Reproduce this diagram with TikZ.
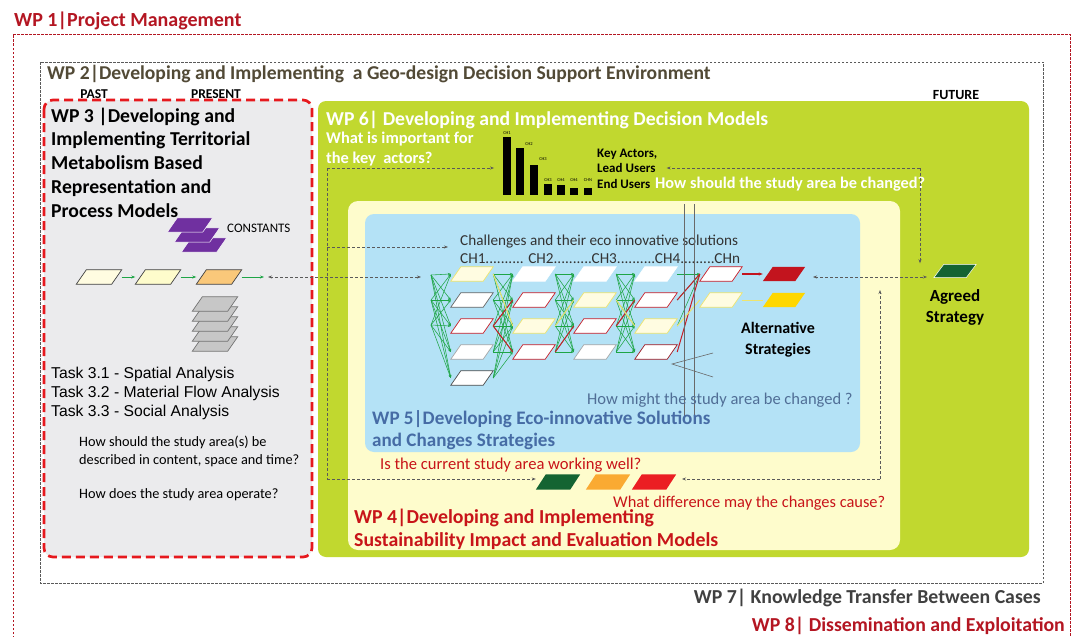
\documentclass[tikz,border=0pt]{standalone}
\usepackage{fontspec}
\setmainfont{Carlito}
\newfontfamily\arialf{Liberation Sans}
\usetikzlibrary{arrows.meta}
\newcommand\myfs[1]{\fontsize{#1}{#1}\selectfont}
% parallelogram: [node options]{path options}{name}{x}{y}
\newcommand\pnode[5][]{%
  \node[pbox,#1] (#3) at (#4,#5) {};
  \path[#2] (#3.south west) -- ([xshift=-10pt]#3.south east) -- (#3.north east) -- ([xshift=10pt]#3.north west) -- cycle;}
\definecolor{wpred}{RGB}{180,22,34}
\definecolor{wptwo}{RGB}{82,74,54}
\definecolor{wpthree}{RGB}{230,25,30}
\definecolor{graybg}{RGB}{235,235,237}
\definecolor{lime}{RGB}{193,216,47}
\definecolor{cream}{RGB}{254,252,204}
\definecolor{paleyel}{RGB}{255,252,225}
\definecolor{sky}{RGB}{180,226,246}
\definecolor{wpblue}{RGB}{70,108,165}
\definecolor{howblue}{RGB}{80,110,150}
\definecolor{netgreen}{RGB}{30,165,70}
\definecolor{netred}{RGB}{200,30,40}
\definecolor{netyellow}{RGB}{238,228,110}
\definecolor{purp}{RGB}{112,48,160}
\definecolor{dkgreen}{RGB}{20,100,50}
\definecolor{tlorange}{RGB}{250,170,50}
\definecolor{rowor}{RGB}{250,200,122}
\definecolor{tlred}{RGB}{235,30,35}
\definecolor{resred}{RGB}{195,20,30}
\definecolor{resyellow}{RGB}{255,215,0}
\definecolor{dashc}{RGB}{90,90,90}
\definecolor{wpfour}{RGB}{200,20,25}
\definecolor{wpseven}{RGB}{64,64,64}
\definecolor{thingray}{RGB}{105,105,105}
\begin{document}
\begin{tikzpicture}[x=1pt,y=-1pt,
  pbox/.style={rectangle, inner sep=0pt, minimum width=42pt, minimum height=14pt},
  bigbox/.style={minimum width=45pt},
  dline/.style={draw=dashc, dash pattern=on 3pt off 2pt, line width=0.8pt},
  dconn/.style={dline, -{Stealth[length=4pt,width=3pt]}},
  dboth/.style={dline, {Stealth[length=4pt,width=3pt]}-{Stealth[length=4pt,width=3pt]}},
  gline/.style={draw=netgreen, line width=0.55pt, -{Stealth[length=3pt,width=2.4pt]}},
  rline/.style={draw=netred, line width=1pt},
  yline/.style={draw=netyellow, line width=1pt},
  garrow/.style={draw=netgreen, line width=0.8pt, -{Stealth[length=4pt,width=3pt]}},
  txt/.style={inner sep=0pt, anchor=base west},
  ctxt/.style={inner sep=0pt, anchor=base},
  rtxt/.style={inner sep=0pt, anchor=base east},
  bar/.style={fill=black, inner sep=0pt, minimum width=7.5pt, anchor=south},
  tiny/.style={inner sep=0pt, anchor=base, font=\myfs{4.5}}
]
\useasboundingbox (0,0) rectangle (1080,637);
\fill[white] (0,0) rectangle (1080,637);

% WP1 frame and title
\draw[wpred, dash pattern=on 2.5pt off 1.5pt, line width=0.6pt] (13,650) -- (13,34) -- (1070,34) -- (1070,650);
\node[txt, font=\myfs{20}\bfseries, text=wpred] (wp1) at (14,26) {WP 1|Project Management};

% WP2 frame and title
\draw[dashc, dash pattern=on 2.5pt off 1.5pt, line width=0.7pt] (40,62) rectangle (1043,583);
\node[txt, font=\myfs{19.6}\bfseries, text=wptwo] (wp2) at (47,79) {WP 2|Developing and Implementing\ \ a Geo-design Decision Support Environment};
\node[ctxt, font=\myfs{13.5}\bfseries] (past) at (94,98) {PAST};
\node[ctxt, font=\myfs{13.5}\bfseries] (present) at (216,98) {PRESENT};
\node[ctxt, font=\myfs{14}\bfseries] (future) at (956,99) {FUTURE};

% WP3 box
\draw[wpthree, line width=2.7pt, dash pattern=on 9pt off 5pt, fill=graybg, rounded corners=9pt] (44,100) rectangle (312,557);
\node[txt, font=\myfs{19.7}\bfseries] (w3a) at (51,122) {WP 3 |Developing and};
\node[txt, font=\myfs{19.7}\bfseries] (w3b) at (51,145) {Implementing Territorial};
\node[txt, font=\myfs{19.7}\bfseries] (w3c) at (51,169) {Metabolism Based};
\node[txt, font=\myfs{19.7}\bfseries] (w3d) at (51,193) {Representation and};
\node[txt, font=\myfs{19.7}\bfseries] (w3e) at (51,217) {Process Models};

% constants stack
\pnode[bigbox]{fill=purp, draw=white, line width=0.5pt}{c3}{204}{245}
\pnode[bigbox]{fill=purp, draw=white, line width=0.5pt}{c2}{197}{235}
\pnode[bigbox]{fill=purp, draw=white, line width=0.5pt}{c1}{190}{225}
\node[txt, font=\myfs{13}] (const) at (227,232) {CONSTANTS};

% row of states
\pnode[bigbox]{fill=paleyel, draw=black!75, line width=0.7pt}{r1}{99}{277}
\pnode[bigbox]{fill=cream, draw=black!75, line width=0.7pt}{r2}{158}{277}
\pnode[bigbox]{fill=rowor, draw=black!75, line width=0.7pt}{r3}{219}{277}
\coordinate (rend) at (264,277);
\draw[garrow] (r1) -- (r2);
\draw[garrow] (r2) -- (r3);
\draw[garrow] (r3) -- (rend);

% gray stack
\foreach \i/\yy in {5/344,4/334,3/324,2/314,1/304}{
  \pnode[bigbox]{fill=black!22, draw=black!55, line width=0.7pt}{g\i}{215}{\yy}
}

% tasks
\node[txt, font=\arialf\myfs{15.7}] (t1) at (51,378) {Task 3.1 - Spatial Analysis};
\node[txt, font=\arialf\myfs{15.7}] (t2) at (51,397) {Task 3.2 - Material Flow Analysis};
\node[txt, font=\arialf\myfs{15.7}] (t3) at (51,416) {Task 3.3 - Social Analysis};
\node[txt, font=\myfs{14.3}] (qa) at (79,446) {How should the study area(s) be};
\node[txt, font=\myfs{14.3}] (qb) at (79,464) {described in content, space and time?};
\node[txt, font=\myfs{14.3}] (qc) at (79,498) {How does the study area operate?};

% WP6 / WP4 / WP5 boxes
\fill[lime, rounded corners=8pt] (318,101) rectangle (1029,557);
\fill[cream, rounded corners=10pt] (348,201) rectangle (900,550);
\fill[sky, rounded corners=9pt] (365,214) rectangle (860,452);

% WP6 texts
\node[txt, font=\myfs{19.7}\bfseries, text=white] (wp6) at (326,125) {WP 6| Developing and Implementing Decision Models};
\node[txt, font=\myfs{16.4}\bfseries, text=white] (wi1) at (326,143) {What is important for};
\node[txt, font=\myfs{16.4}\bfseries, text=white] (wi2) at (326,163) {the key\ \ actors?};

% bar chart
\node[bar, minimum height=58pt] (b1) at (507,195) {};
\node[bar, minimum height=47pt] (b2) at (520,195) {};
\node[bar, minimum height=30pt] (b3) at (534,195) {};
\node[bar, minimum height=11pt] (b4) at (548,195) {};
\node[bar, minimum height=10pt] (b5) at (561,195) {};
\node[bar, minimum height=7pt] (b6) at (574,195) {};
\node[bar, minimum height=7pt] (b7) at (588,195) {};
\node[tiny] (l1) at (507,134) {CH1};
\node[tiny] (l2) at (529,145) {CH2};
\node[tiny] (l3) at (543,160) {CH3};
\node[tiny] (l4) at (548,181) {CH3};
\node[tiny] (l5) at (561,181) {CH4};
\node[tiny] (l6) at (574,181) {CH4};
\node[tiny] (l7) at (588,181) {CHN};

\node[txt, font=\myfs{13}\bfseries] (ka) at (597,157) {Key Actors,};
\node[txt, font=\myfs{13}\bfseries] (lu) at (597,172) {Lead Users};
\node[txt, font=\myfs{13}\bfseries] (eu) at (597,188) {End Users};
\node[txt, font=\myfs{16.3}\bfseries, text=white] (hs) at (655,188) {How should the study area be changed?};

% WP5 texts
\node[txt, font=\myfs{15.2}, text=black!80] (chal) at (460,245) {Challenges and their eco innovative solutions};
\node[txt, font=\myfs{15.2}, text=black!80] (chs) at (460,263) {CH1.......... CH2..........CH3..........CH4.........CHn};

% network nodes
\foreach \n/\x/\y/\f/\d in {
  n1-1/472/274/paleyel/netyellow, n1-2/472/300/white/black!60,
  n1-3/472/326/white/netred, n1-4/472/352/white/black!35,
  n1-5/472/378/white/black!70,
  n2-1/534/274/white/white, n2-2/534/300/white/netred,
  n2-3/534/326/paleyel/netyellow, n2-4/534/352/white/netred,
  n3-1/595/274/white/white, n3-2/595/300/paleyel/netyellow,
  n3-3/595/326/white/netred, n3-4/595/352/white/black!35,
  n4-1/656/274/white/white, n4-2/656/300/white/netred,
  n4-3/656/326/paleyel/netyellow, n4-4/656/352/white/netred!80!black,
  n5-1/721/274/white/netred, n5-2/721/300/paleyel/netyellow}{
  \pnode{fill=\f, draw=\d, line width=0.7pt}{\n}{\x}{\y}
}
\pnode{fill=resred}{resR}{784}{274}
\pnode{fill=resyellow}{resY}{784}{300}

% fan start points
\coordinate (f1) at (431,275);
\coordinate (f2) at (431,300);
\coordinate (f3) at (431,325);
\foreach \a in {1,2,3}{\foreach \b in {1,...,5}{\draw[gline] (f\a) -- (n1-\b.west);}}
\foreach \a in {1,...,5}{\foreach \b in {1,...,4}{\draw[gline] (n1-\a.east) -- (n2-\b.west);}}
\foreach \a in {1,...,4}{\foreach \b in {1,...,4}{\draw[gline] (n2-\a.east) -- (n3-\b.west);}}
\foreach \a in {1,...,4}{\foreach \b in {1,...,4}{\draw[gline] (n3-\a.east) -- (n4-\b.west);}}
\foreach \a in {1,2,3}{\draw[gline] (n4-\a.east) -- (n5-1.west);}

% highlighted paths
\draw[rline] (n1-3.east) -- (n2-2.west);
\draw[rline] (n1-3.east) -- (n2-4.west);
\draw[rline] (n2-4.east) -- (n3-3.west);
\draw[rline] (n3-3.east) -- (n4-2.west);
\draw[rline] (n4-2.east) -- (n5-1.west);
\draw[rline] (n4-4.east) -- (n5-1.west);
\draw[draw=resred, line width=1.2pt, -{Stealth[length=4pt,width=3pt]}] (n5-1.east) -- (resR.west);
\draw[yline] (n1-1.east) -- (n2-3.west);
\draw[yline] (n2-3.east) -- (n3-2.west);
\draw[yline] (n3-2.east) -- (n4-3.west);
\draw[yline] (n4-3.east) -- (n5-2.west);
\draw[yline] (n5-2.east) -- (resY.west);

% gray lines
\coordinate (v1a) at (684,204); \coordinate (v1b) at (684,420);
\coordinate (v2a) at (694,204); \coordinate (v2b) at (694,420);
\draw[draw=thingray, line width=0.6pt] (v1a) -- (v1b);
\draw[draw=thingray, line width=0.6pt] (v2a) -- (v2b);
\coordinate (z1) at (713,353); \coordinate (z2) at (672,364); \coordinate (z3) at (713,377);
\draw[draw=thingray, line width=0.6pt] (z1) -- (z2) -- (z3);

\node[ctxt, font=\myfs{16}\bfseries] (alt1) at (778,333) {Alternative};
\node[ctxt, font=\myfs{16}\bfseries] (alt2) at (778,354) {Strategies};
\node[txt, font=\myfs{16.5}, text=howblue] (hm) at (587,404) {How might the study area be changed ?};
\node[txt, font=\myfs{19.1}\bfseries, text=wpblue] (wp5a) at (372,424) {WP 5|Developing Eco-innovative Solutions};
\node[txt, font=\myfs{19.1}\bfseries, text=wpblue] (wp5b) at (372,446) {and Changes Strategies};

% WP4 texts and traffic lights
\node[txt, font=\myfs{16.6}, text=wpfour] (iscur) at (380,469) {Is the current study area working well?};
\pnode[minimum width=44pt, minimum height=15pt]{fill=dkgreen}{tl1}{558}{482}
\pnode[minimum width=44pt, minimum height=15pt]{fill=tlorange}{tl2}{608}{482}
\pnode[minimum width=44pt, minimum height=15pt]{fill=tlred}{tl3}{654}{482}
\node[txt, font=\myfs{16.4}, text=wpfour] (wd) at (613,507) {What difference may the changes cause?};
\node[txt, font=\myfs{19.8}\bfseries, text=wpfour] (wp4a) at (354,523) {WP 4|Developing and Implementing};
\node[txt, font=\myfs{19.8}\bfseries, text=wpfour] (wp4b) at (354,546) {Sustainability Impact and Evaluation Models};

% agreed strategy
\pnode[minimum height=13pt]{fill=dkgreen, draw=white, line width=0.5pt}{ag}{955}{271}
\node[ctxt, font=\myfs{17}\bfseries] (ag1) at (955,301) {Agreed};
\node[ctxt, font=\myfs{17}\bfseries] (ag2) at (955,322) {Strategy};

% dashed connectors
\coordinate (q1) at (327,168);
\coordinate (q2) at (327,247);
\coordinate (q3) at (327,479);
\draw[dconn, shorten >=9pt] (q1) -- (q1 -| b1.west);
\draw[dline] (q1) -- (q3);
\draw[dconn, shorten >=12pt] (q2) -- (q2 -| chal.west);
\draw[dconn, shorten >=0pt] (q3) -- (q3 -| tl1.west);
\coordinate (la) at (268,277);
\coordinate (lb) at (421,277);
\draw[dboth] (la) -- (lb);
\coordinate (rq1) at (920,168);
\draw[dconn, shorten >=11pt] (rq1) -- (rq1 -| lu.east);
\draw[dconn, shorten >=1pt] (rq1) -- (rq1 |- ag.north);
\coordinate (ra) at (813,277);
\coordinate (rb) at (927,277);
\draw[dboth] (ra) -- (rb);
\coordinate (rq2) at (880,479);
\coordinate (rq3) at (880,290);
\coordinate (rq4) at (682,479);
\draw[dconn] (rq2) -- (rq4);
\draw[dconn] (rq2) -- (rq3);

% WP7, WP8
\node[rtxt, font=\myfs{19.8}\bfseries, text=wpseven] (wp7) at (1041,603) {WP 7| Knowledge Transfer Between Cases};
\node[rtxt, font=\myfs{19.8}\bfseries, text=wpred] (wp8) at (1065,631) {WP 8| Dissemination and Exploitation};
\end{tikzpicture}
\end{document}
